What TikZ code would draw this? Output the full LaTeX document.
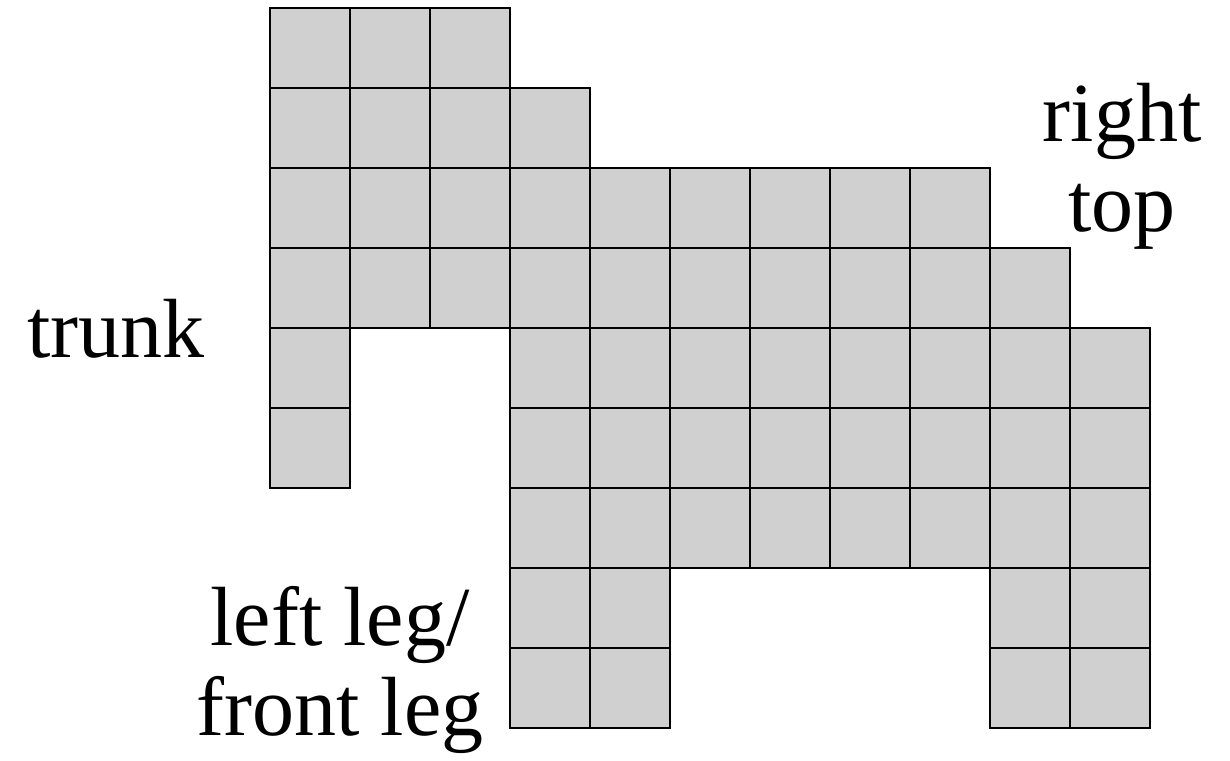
\documentclass[tikz,border=0pt]{standalone}
\usepackage{fontspec}
\setmainfont{Liberation Serif}
\usepackage{tikz}
\usetikzlibrary{positioning}
\definecolor{cellgray}{RGB}{208,208,208}

\begin{document}
\begin{tikzpicture}[x=40pt,y=40pt,
  cell/.style={fill=cellgray,draw=black,line width=1.3pt},
  lbl/.style={font=\fontsize{42}{45}\selectfont,align=center,inner sep=0pt}]
  \useasboundingbox (-3.375,-0.4) rectangle (12,9.1);
  % squares, row counted from the top: row/first column/last column
  \foreach \r/\a/\b in {0/0/2,1/0/3,2/0/8,3/0/9,4/0/0,4/3/10,5/0/0,5/3/10,
                        6/3/10,7/3/4,7/9/10,8/3/4,8/9/10}
    \foreach \c in {\a,...,\b}
      \draw[cell] (\c,8-\r) rectangle ++(1,1);
  \node[lbl,anchor=base] (trunk) at (-1.925,4.625) {trunk};
  \node[lbl] (righttop) at (10.65,7.02) {right\\top};
  \node[lbl] (frontleg) at (0.875,0.72) {left leg/\\front leg};
\end{tikzpicture}
\end{document}
